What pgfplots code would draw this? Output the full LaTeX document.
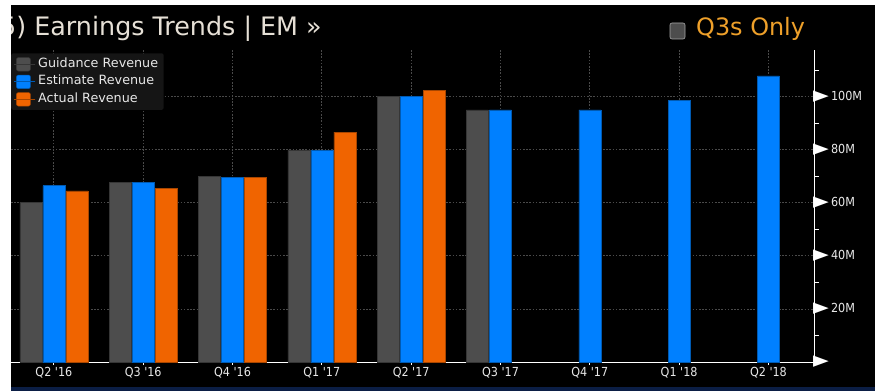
\documentclass[border=0pt]{standalone}
\usepackage{pgfplots}
\pgfplotsset{compat=1.18}
\usepackage{graphicx}
\usepackage{fontspec}
\setmainfont{DejaVu Sans}
\newfontfamily\cond{DejaVu Sans Condensed}
\definecolor{gbar}{HTML}{4D4D4D}
\definecolor{bbar}{HTML}{0080FF}
\definecolor{obar}{HTML}{F06400}
\definecolor{txt}{HTML}{E8E8E8}
\definecolor{ttl}{HTML}{E6E0D6}
\definecolor{q3}{HTML}{EEA02A}
\definecolor{grd}{HTML}{4A4A4A}
\definecolor{navy}{HTML}{0B1E45}
\definecolor{legbg}{HTML}{151515}
\newcommand{\tri}{\raisebox{-0.5bp}{\scalebox{1.9}[1.25]{\color{white}\fontsize{12}{12}\selectfont ▶}}}
\begin{document}
\begin{tikzpicture}[x=1bp,y=1bp]
\useasboundingbox (0,0) rectangle (875,391);
\fill[black] (0,0) rectangle (875,391);
\node[anchor=base west, inner sep=0pt, text=ttl, font=\fontsize{25.5}{25.5}\selectfont] at (0,356) {5) Earnings Trends | EM »};
\fill[gbar, draw=gray!70, line width=0.6bp, rounded corners=2bp] (670,352) rectangle (685,368);
\node[anchor=base west, inner sep=0pt, text=q3, font=\fontsize{24}{24}\selectfont] at (696,356) {Q3s Only};
\begin{axis}[
  at={(11bp,29bp)}, anchor=south west, scale only axis,
  width=803bp, height=312bp,
  xmin=-0.48, xmax=8.51, ymin=0, ymax=117.6,
  ybar=1bp, bar width=22bp,
  axis x line*=bottom, axis y line*=right,
  x axis line style={white!75, line width=0.8bp, -},
  y axis line style={white, line width=1bp, -},
  xtick={0,...,8},
  xticklabels={Q2 '16,Q3 '16,Q4 '16,Q1 '17,Q2 '17,Q3 '17,Q4 '17,Q1 '18,Q2 '18},
  xticklabel style={font=\cond\fontsize{12.5}{12.5}\selectfont, text=txt, yshift=1bp},
  ytick={0,20,40,60,80,100},
  yticklabels={\tri,\tri\,20M,\tri\,40M,\tri\,60M,\tri\,80M,\tri\,100M},
  yticklabel style={font=\cond\fontsize{12.5}{12.5}\selectfont, text=txt, anchor=west, inner xsep=0pt, xshift=-4bp},
  minor ytick={10,30,50,70,90,110},
  tick align=outside,
  major tick length=3bp, minor tick length=5bp,
  every major y tick/.append style={draw=none},
  every minor y tick/.append style={white, line width=0.8bp},
  every major x tick/.append style={white!75, line width=0.8bp},
  grid=major,
  major grid style={grd, dash pattern=on 1.6bp off 1.6bp, line width=0.8bp},
  legend style={at={(axis description cs:0.0,0.99)}, anchor=north west,
    fill=legbg, draw=none, rounded corners=2bp, text=txt,
    font=\fontsize{12.8}{12.8}\selectfont, inner xsep=3bp, inner ysep=2bp,
    nodes={inner sep=2.5bp, text height=9.5bp, text depth=3bp}},
  legend cell align=left,
  legend image code/.code={\fill[#1] (2bp,-7bp) rectangle (16bp,6.5bp); \path (0bp,0bp) -- (21bp,0bp);},
]
\addplot[fill=gbar, draw=gbar!70!black, line width=0.5bp] coordinates
  {(0,60.2) (1,67.6) (2,70.0) (3,79.8) (4,100.0) (5,95.0)};
\addplot[fill=bbar, draw=bbar!70!black, line width=0.5bp] coordinates
  {(0,66.5) (1,67.6) (2,69.6) (3,79.8) (4,100.0) (5,95.0) (6,95.0) (7,98.5) (8,107.8)};
\addplot[fill=obar, draw=obar!70!black, line width=0.5bp] coordinates
  {(0,64.5) (1,65.5) (2,69.6) (3,86.6) (4,102.5)};
\legend{Guidance Revenue\hspace{12bp}, Estimate Revenue, Actual Revenue}
\end{axis}
\fill[white] (0,0) rectangle (11,391);
\fill[white] (0,386) rectangle (875,391);
\fill[navy] (11,0) rectangle (875,4);
\end{tikzpicture}
\end{document}
